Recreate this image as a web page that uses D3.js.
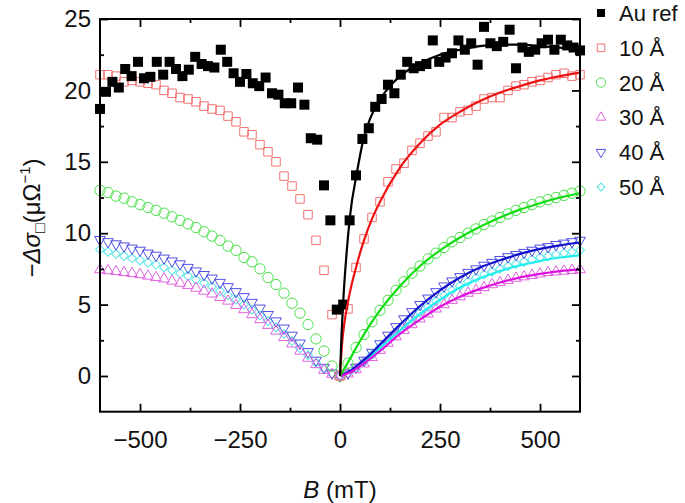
<!DOCTYPE html>
<html><head><meta charset="utf-8">
<script src="https://cdn.jsdelivr.net/npm/d3@7"></script>
<style>html,body{margin:0;padding:0;background:#fff;}svg{display:block;font-family:"Liberation Sans",Arial,sans-serif;}</style>
</head><body>
<svg id="c" width="685" height="503"></svg>
<script>
// ---- data ----
const fieldB = d3.range(-600, 601, 20); // 61 field values, mT
const val10 = [21.1,21.1,21.0,20.6,20.7,20.6,20.5,20.4,20.0,19.8,19.5,19.4,19.2,18.9,18.7,18.6,18.2,17.8,17.1,16.9,16.2,15.7,15.0,14.0,13.3,12.4,11.3,9.5,7.4,4.3,
  0.0,
  4.7,7.6,9.6,11.1,12.2,13.6,14.5,14.9,15.8,16.3,16.8,17.1,18.1,18.1,18.5,18.6,18.9,19.4,19.5,19.5,20.0,20.3,20.4,20.6,20.7,20.9,21.1,21.2,21.0,21.1];
const val20 = [13.0,12.85,12.6,12.45,12.2,12.0,11.8,11.6,11.4,11.15,10.9,10.65,10.4,10.1,9.8,9.5,9.1,8.8,8.3,8.0,7.5,6.9,6.4,5.8,5.1,4.4,3.6,2.6,1.75,0.7,
  0.0,
  0.9,2.0,2.9,3.8,4.6,5.3,6.0,6.6,7.2,7.7,8.2,8.6,9.0,9.4,9.7,10.0,10.3,10.6,10.85,11.1,11.35,11.6,11.8,12.0,12.2,12.35,12.5,12.65,12.8,12.95];
const val30 = [7.45,7.38,7.32,7.25,7.18,7.1,7.0,6.9,6.8,6.65,6.5,6.35,6.15,5.95,5.75,5.5,5.25,4.95,4.65,4.3,3.95,3.55,3.15,2.7,2.25,1.75,1.25,0.8,0.4,0.12,
  0.0,
  0.15,0.45,0.85,1.3,1.8,2.3,2.75,3.2,3.6,4.0,4.35,4.7,5.0,5.3,5.55,5.8,6.0,6.2,6.4,6.55,6.7,6.85,6.95,7.05,7.15,7.25,7.3,7.35,7.4,7.45];
const val40 = [9.55,9.4,9.25,9.1,8.95,8.8,8.6,8.45,8.25,8.05,7.85,7.6,7.35,7.1,6.85,6.55,6.25,5.9,5.55,5.15,4.75,4.3,3.85,3.35,2.85,2.3,1.7,1.1,0.6,0.2,
  0.0,
  0.2,0.6,1.1,1.65,2.25,2.85,3.45,4.0,4.5,5.0,5.45,5.9,6.3,6.65,6.95,7.25,7.5,7.75,7.95,8.15,8.35,8.5,8.65,8.8,8.95,9.05,9.2,9.3,9.4,9.5];
const val50 = [8.85,8.7,8.55,8.4,8.25,8.1,7.95,7.8,7.6,7.4,7.2,7.0,6.75,6.5,6.25,5.95,5.65,5.35,5.0,4.65,4.25,3.85,3.4,2.95,2.45,1.95,1.45,0.95,0.5,0.15,
  0.0,
  0.18,0.55,1.0,1.5,2.0,2.5,3.05,3.55,4.0,4.45,4.85,5.25,5.65,6.0,6.3,6.6,6.85,7.1,7.3,7.5,7.7,7.85,8.0,8.15,8.3,8.4,8.5,8.6,8.7,8.8];

const auB = [-600,-585,-569,-553,-537,-521,-505,-490,-474,-458,-442,-426,-410,-394,-378,-362,-346,-330,-314,-298,-282,-266,-250,-234,-218,-202,-186,-170,-154,-138,-122,-105,-89,-73,-57,-40,-24,-8,
  8,24,40,56,72,88,104,120,136,152,168,184,200,216,232,248,264,280,296,312,328,344,360,376,392,408,424,440,456,472,488,504,520,536,552,568,584,600];
const auVal = [18.7,19.9,20.6,20.2,21.5,21.0,22.0,20.85,20.95,22.0,21.1,22.0,21.5,21.0,21.45,22.35,21.85,21.7,21.6,22.85,22.0,21.2,20.6,21.15,20.5,20.3,20.9,19.8,19.7,19.1,19.1,20.2,19.0,16.65,16.55,13.35,10.9,4.65,
  5.0,10.9,14.05,16.6,17.35,18.85,19.4,20.4,19.8,21.1,22.0,21.55,21.7,21.85,23.5,22.0,22.3,22.6,23.5,22.85,23.3,21.8,24.45,23.3,23.1,23.4,24.25,21.55,23.0,22.7,22.85,23.3,23.55,22.85,23.55,23.15,23.0,22.8];

// fitted curves (B >= 0)
const fitAuB   = [0,4,8,17,25,42,58,75,92,125,150,200,250,300,350,400,450,500,550,600];
const fitAuVal = [0,3.0,5.2,8.8,11.2,14.2,16.5,18.0,19.0,20.3,21.0,21.9,22.5,22.85,23.1,23.2,23.2,23.1,23.0,22.8];
const fit10B   = [0,5,10,20,40,60,80,100,150,200,250,300,350,400,450,500,550,600];
const fit10Val = [0,2.2,3.5,5.2,7.6,9.5,11.0,12.2,14.6,16.3,17.6,18.5,19.25,19.85,20.3,20.7,21.0,21.25];
const fitB     = [0,25,50,75,100,150,200,250,300,350,400,450,500,550,600];
const fit20Val = [0,1.2,2.45,3.6,4.6,6.3,7.7,8.8,9.7,10.45,11.1,11.65,12.1,12.5,12.8];
const fit30Val = [0,0.25,0.7,1.2,1.75,2.95,3.95,4.85,5.55,6.1,6.55,6.9,7.15,7.35,7.45];
const fit40Val = [0,0.35,0.9,1.5,2.2,3.6,4.9,6.0,6.9,7.6,8.1,8.55,8.9,9.15,9.35];
const fit50Val = [0,0.3,0.8,1.35,1.95,3.2,4.35,5.35,6.2,6.85,7.35,7.75,8.05,8.3,8.45];

const legendLabels = ["Au ref","10 Å","20 Å","30 Å","40 Å","50 Å"];
const xMajor = [-500,-250,0,250,500];
const xMinor = [-375,-125,125,375];
const yMajor = [0,5,10,15,20,25];
const yMinor = [2.5,7.5,12.5,17.5,22.5];

// ---- drawing ----
const svg = d3.select("#c");
const L=100,R=580,T=19,B=411.7;
const x = d3.scaleLinear().domain([-600,600]).range([L,R]);
const y = d3.scaleLinear().domain([-2.5,25]).range([B,T]);

const series = [
  {name:legendLabels[0], xs:auB, ys:auVal, sym:d3.symbolSquare, size:100, fill:"#000", stroke:"none", rot:0,
   fx:fitAuB, fy:fitAuVal, line:"#000"},
  {name:legendLabels[1], xs:fieldB, ys:val10, sym:d3.symbolSquare, size:72, fill:"none", stroke:"#f07272", rot:0,
   fx:fit10B, fy:fit10Val, line:"#ee1111"},
  {name:legendLabels[2], xs:fieldB, ys:val20, sym:d3.symbolCircle, size:85, fill:"none", stroke:"#4fe04f", rot:0,
   fx:fitB, fy:fit20Val, line:"#11dd11"},
  {name:legendLabels[3], xs:fieldB, ys:val30, sym:d3.symbolTriangle, size:50, fill:"none", stroke:"#e065e0", rot:0,
   fx:fitB, fy:fit30Val, line:"#dd11dd"},
  {name:legendLabels[4], xs:fieldB, ys:val40, sym:d3.symbolTriangle, size:50, fill:"none", stroke:"#5050e0", rot:180,
   fx:fitB, fy:fit40Val, line:"#1111cc"},
  {name:legendLabels[5], xs:fieldB, ys:val50, sym:d3.symbolSquare, size:40, fill:"none", stroke:"#55e5e5", rot:45,
   fx:fitB, fy:fit50Val, line:"#22eeee"}
];

const plot = svg.append("g");
// markers (draw lower series first)
[5,4,3,2,1,0].forEach(i=>{
  const s=series[i];
  const g=plot.append("g");
  g.selectAll("path").data(s.xs.map((b,k)=>[b,s.ys[k]])).join("path")
    .attr("d", d3.symbol(s.sym, s.size)())
    .attr("transform", d=>`translate(${x(d[0])},${y(d[1])}) rotate(${s.rot})`)
    .attr("fill", s.fill).attr("stroke", s.stroke).attr("stroke-width", 1);
});
// fit lines
const lineGen = d3.line().curve(d3.curveMonotoneX);
[5,4,3,2,1,0].forEach(i=>{
  const s=series[i];
  plot.append("path")
    .attr("d", lineGen(s.fx.map((b,k)=>[x(b), y(s.fy[k])])))
    .attr("fill","none").attr("stroke", s.line).attr("stroke-width", 2.2);
});

// axes
const fmt = d=> d<0 ? "\u2212"+Math.abs(d) : String(d);
const axB = svg.append("g").attr("transform",`translate(0,${B})`)
  .call(d3.axisBottom(x).tickValues(xMajor).tickSize(-8).tickPadding(19).tickFormat(fmt));
const axT = svg.append("g").attr("transform",`translate(0,${T})`)
  .call(d3.axisTop(x).tickValues(xMajor).tickSize(-8).tickFormat(""));
const axL = svg.append("g").attr("transform",`translate(${L},0)`)
  .call(d3.axisLeft(y).tickValues(yMajor).tickSize(-8).tickPadding(9).tickFormat(fmt));
const axR = svg.append("g").attr("transform",`translate(${R},0)`)
  .call(d3.axisRight(y).tickValues(yMajor).tickSize(-8).tickFormat(""));
svg.append("g").attr("transform",`translate(0,${B})`).call(d3.axisBottom(x).tickValues(xMinor).tickSize(-4).tickFormat(""));
svg.append("g").attr("transform",`translate(0,${T})`).call(d3.axisTop(x).tickValues(xMinor).tickSize(-4).tickFormat(""));
svg.append("g").attr("transform",`translate(${L},0)`).call(d3.axisLeft(y).tickValues(yMinor).tickSize(-4).tickFormat(""));
svg.append("g").attr("transform",`translate(${R},0)`).call(d3.axisRight(y).tickValues(yMinor).tickSize(-4).tickFormat(""));
svg.selectAll(".domain").remove();
svg.selectAll(".tick line").attr("stroke","#000").attr("stroke-width",1.8);
svg.selectAll(".tick text").attr("font-size",24).attr("fill","#111").attr("font-family","'Liberation Sans',Arial,sans-serif");
svg.append("rect").attr("x",L).attr("y",T).attr("width",R-L).attr("height",B-T)
  .attr("fill","none").attr("stroke","#000").attr("stroke-width",2);

// axis titles
const xt = svg.append("text").attr("x",340).attr("y",498).attr("text-anchor","middle").attr("font-size",24).attr("fill","#111");
xt.append("tspan").attr("font-style","italic").text("B");
xt.append("tspan").text(" (mT)");

const yt = svg.append("text").attr("transform","translate(40,218) rotate(-90)").attr("text-anchor","middle").attr("font-size",24).attr("fill","#111");
yt.append("tspan").text("\u2212");
yt.append("tspan").attr("font-style","italic").text("\u0394\u03C3");
yt.append("tspan").attr("font-size",16).attr("dy",5).text("\u25A1");
yt.append("tspan").attr("dy",-5).text("(\u03BC\u03A9");
yt.append("tspan").attr("font-size",15).attr("dy",-10).text("\u22121");
yt.append("tspan").attr("dy",10).text(")");

// legend
const lg = svg.append("g");
series.forEach((s,i)=>{
  const yy = 13 + i*34.8;
  lg.append("path").attr("d", d3.symbol(s.sym, i===0?64:s.size*0.8)())
    .attr("transform",`translate(601,${yy}) rotate(${s.rot})`)
    .attr("fill", s.fill).attr("stroke", s.stroke).attr("stroke-width",1);
  lg.append("text").attr("x",619).attr("y",yy+8).attr("font-size",22).attr("fill","#111").text(s.name);
});
</script>
</body></html>
